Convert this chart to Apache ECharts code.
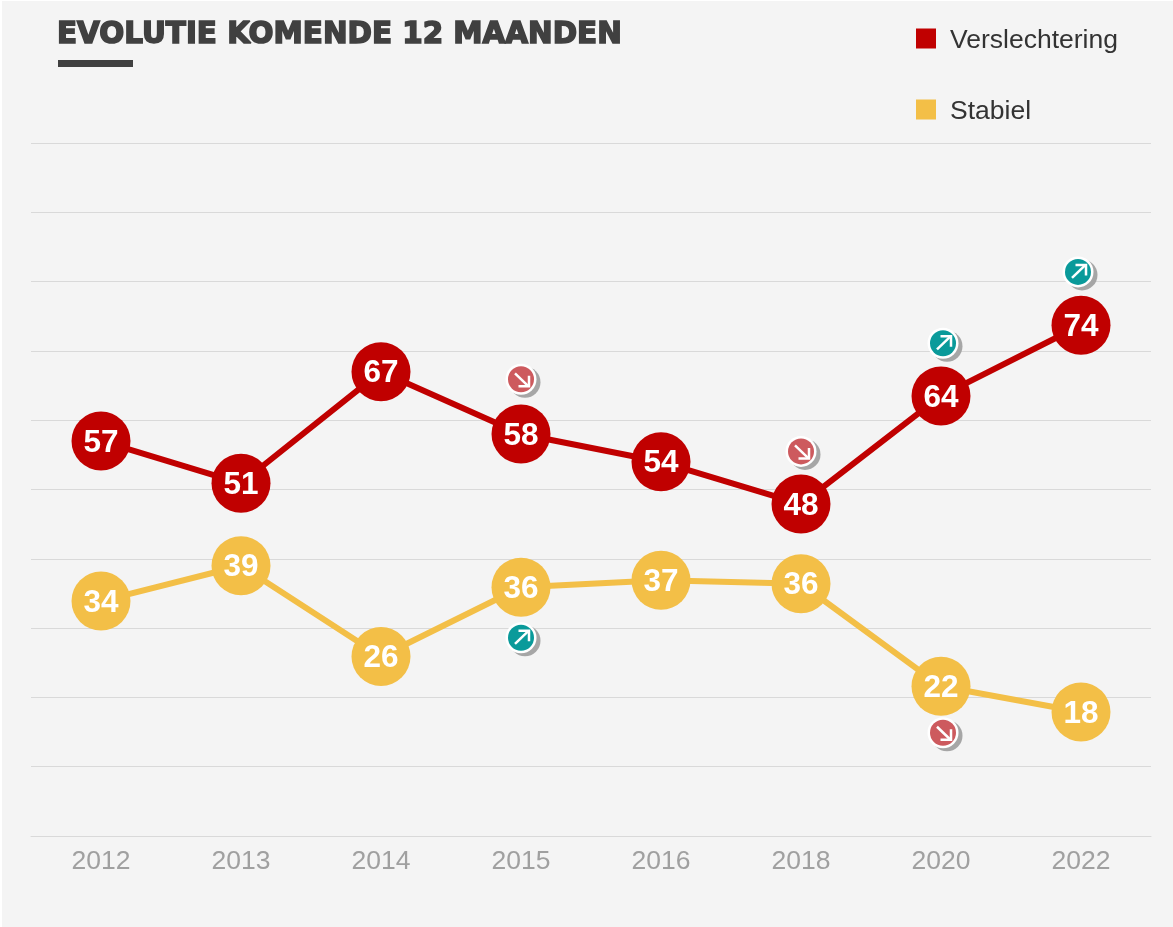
<!DOCTYPE html>
<html>
<head>
<meta charset="utf-8">
<style>
html,body{margin:0;padding:0;background:#ffffff;}
#c{position:absolute;left:0;top:0;width:1173px;height:927px;}
</style>
<script src="https://cdn.jsdelivr.net/npm/echarts@6/dist/echarts.min.js"></script>
</head>
<body>
<div id="c"></div>
<script>
const categories = ['2012','2013','2014','2015','2016','2018','2020','2022'];
const verslechtering = [57,50.9,67,58,54,47.9,63.5,73.7];
const stabiel = [33.9,39,25.9,35.9,36.9,36.4,21.6,17.9];
const upBadges = [['2015',28.6],['2020',71.1],['2022',81.4]];
const downBadges = [['2015',65.9],['2018',55.5],['2020',14.9]];

const badgeNudge = {'2020':2,'2022':-3};
const RED='#c00000', YEL='#f3bf47', TEAL='#0a9a9a', SOFTRED='#cd5a5e';

function badge(color, up){
  return function(params, api){
    const p = api.coord([api.value(0), api.value(1)]);
    const cat = categories[api.value(0)];
    const x = p[0] + (badgeNudge[cat]||0), y = p[1], r = 13;
    const s = up ? -1 : 1;
    const line = [[x-6,y-6*s],[x+7,y+6.5*s]];
    const head = [[x-2.5,y+7*s],[x+8,y+7*s],[x+8,y-3.5*s]];
    return {type:'group',children:[
      {type:'circle',shape:{cx:x+4,cy:y+3,r:r+2.5},style:{fill:'#a6a6a6'}},
      {type:'circle',shape:{cx:x,cy:y,r:r+2.5},style:{fill:'#ffffff'}},
      {type:'circle',shape:{cx:x,cy:y,r:r},style:{fill:color}},
      {type:'polyline',shape:{points:line},style:{stroke:'#fff',lineWidth:2.5,fill:'none'}},
      {type:'polyline',shape:{points:head},style:{stroke:'#fff',lineWidth:2.5,fill:'none'}}
    ]};
  };
}

function lineSeries(name,data,color){
  return {
    name,type:'line',data,symbol:'circle',symbolSize:59,
    itemStyle:{color},lineStyle:{color,width:6},
    label:{show:true,position:'inside',offset:[0,2],color:'#fff',fontFamily:'Liberation Sans',fontWeight:'bold',fontSize:31.5,
      formatter:function(p){return String(Math.round(p.value));}},
    animation:false,z:3
  };
}

const chart = echarts.init(document.getElementById('c'),null,{renderer:'canvas'});
chart.setOption({
  animation:false,
  backgroundColor:'#ffffff',
  title:{
    text:'EVOLUTIE KOMENDE 12 MAANDEN',left:57,top:21,padding:0,
    textStyle:{fontFamily:'DejaVu Sans',fontWeight:'bold',fontSize:29.4,color:'#404040',textBorderColor:'#404040',textBorderWidth:1.6}
  },
  legend:{
    orient:'vertical',left:911,top:22,itemWidth:20,itemHeight:20,itemGap:44,icon:'rect',
    selectedMode:false,
    data:['Verslechtering','Stabiel'],
    formatter:'{a|{name}}',
    textStyle:{fontFamily:'Liberation Sans',fontSize:26.5,color:'#333333',padding:[0,0,0,9],
      rich:{a:{fontFamily:'Liberation Sans',fontSize:26.5,color:'#333333',padding:[4,0,0,0]}}}
  },
  graphic:[
    {type:'rect',z:-10,silent:true,shape:{x:2,y:1,width:1171,height:926},style:{fill:'#f4f4f4'}},
    {type:'rect',shape:{x:58,y:60,width:75,height:7},style:{fill:'#404040'}}
  ],
  grid:{left:31,right:22,top:143,bottom:91},
  xAxis:{
    type:'category',data:categories,boundaryGap:true,
    axisLine:{lineStyle:{color:'#d9d9d9',width:1}},axisTick:{show:false},
    axisLabel:{fontFamily:'Liberation Sans',fontSize:26.5,color:'#a0a0a0',margin:12}
  },
  yAxis:{
    type:'value',min:0,max:100,interval:10,
    axisLine:{show:false},axisTick:{show:false},axisLabel:{show:false},
    splitLine:{lineStyle:{color:'#d9d9d9',width:1}}
  },
  series:[
    lineSeries('Verslechtering',verslechtering,RED),
    lineSeries('Stabiel',stabiel,YEL),
    {type:'custom',data:upBadges,renderItem:badge(TEAL,true),z:4,silent:true,encode:{x:0,y:1}},
    {type:'custom',data:downBadges,renderItem:badge(SOFTRED,false),z:4,silent:true,encode:{x:0,y:1}}
  ]
});
</script>
</body>
</html>
